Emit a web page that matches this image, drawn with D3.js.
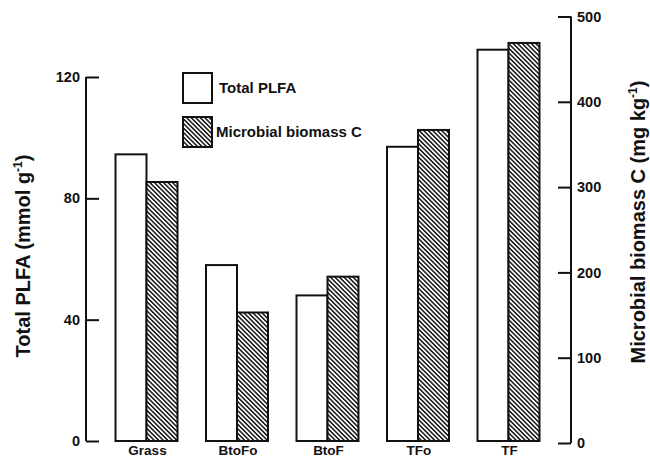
<!DOCTYPE html>
<html>
<head>
<meta charset="utf-8">
<script src="https://cdn.jsdelivr.net/npm/d3@7"></script>
<style>
  html, body { margin: 0; padding: 0; background: #fff; }
  svg { display: block; }
  text { font-family: "Liberation Sans", Arial, Helvetica, sans-serif; font-weight: bold; fill: #111; }
</style>
</head>
<body>
<script>
const categories = ["Grass", "BtoFo", "BtoF", "TFo", "TF"];
const totalPLFA = [94.5, 58, 48, 97, 129];
const biomassC = [306, 153, 195, 367, 469];
const leftTicks = [0, 40, 80, 120];
const rightTicks = [0, 100, 200, 300, 400, 500];
const seriesNames = ["Total PLFA", "Microbial biomass C"];

const W = 650, H = 459;
const svg = d3.select("body").append("svg").attr("width", W).attr("height", H);

const defs = svg.append("defs");
const pat = defs.append("pattern")
  .attr("id", "hatch")
  .attr("patternUnits", "userSpaceOnUse")
  .attr("width", 3.2).attr("height", 3.2)
  .attr("patternTransform", "rotate(-45)");
pat.append("rect").attr("width", 3.2).attr("height", 3.2).attr("fill", "#fff");
pat.append("line").attr("x1", 0.8).attr("y1", 0).attr("x2", 0.8).attr("y2", 3.2)
  .attr("stroke", "#222").attr("stroke-width", 1.6);

const x = d3.scaleBand().domain(categories).range([87, 568]).paddingInner(0.315).paddingOuter(0.315);
const xs = d3.scaleBand().domain([0, 1]).range([0, x.bandwidth()]);
const yL = d3.scaleLinear().domain([0, 120]).range([441, 77]);
const yR = d3.scaleLinear().domain([0, 500]).range([443, 16.5]);

// Left axis
const axL = d3.axisLeft(yL).tickValues(leftTicks).tickSize(-13).tickPadding(6);
const gL = svg.append("g").attr("transform", "translate(86,0)").call(axL);
gL.select(".domain").attr("d", `M0,${yL(120)}V${yL(0)}`).attr("stroke", "#111").attr("stroke-width", 2);
gL.selectAll(".tick line").attr("stroke", "#111").attr("stroke-width", 2);
gL.selectAll(".tick text").attr("x", -6).attr("font-size", 14.5).attr("font-family", "Liberation Sans, Arial, sans-serif").attr("font-weight", "bold").attr("fill", "#111");

// Right axis
const axR = d3.axisRight(yR).tickValues(rightTicks).tickSize(-13).tickPadding(6);
const gR = svg.append("g").attr("transform", "translate(571,0)").call(axR);
gR.select(".domain").attr("d", `M0,${yR(500)}V${yR(0)}`).attr("stroke", "#111").attr("stroke-width", 2);
gR.selectAll(".tick line").attr("stroke", "#111").attr("stroke-width", 2);
gR.selectAll(".tick text").attr("x", 6).attr("font-size", 14.5).attr("font-family", "Liberation Sans, Arial, sans-serif").attr("font-weight", "bold").attr("fill", "#111");

// Bars
const groups = svg.append("g").selectAll("g").data(categories).join("g")
  .attr("transform", d => `translate(${x(d)},0)`);

groups.append("rect")
  .attr("x", xs(0)).attr("width", xs.bandwidth())
  .attr("y", (d, i) => yL(totalPLFA[i]))
  .attr("height", (d, i) => yL(0) - yL(totalPLFA[i]))
  .attr("fill", "#fff").attr("stroke", "#111").attr("stroke-width", 2);

groups.append("rect")
  .attr("x", xs(1)).attr("width", xs.bandwidth())
  .attr("y", (d, i) => yR(biomassC[i]))
  .attr("height", (d, i) => yL(0) - yR(biomassC[i]))
  .attr("fill", "url(#hatch)").attr("stroke", "#111").attr("stroke-width", 2);

// Category labels
svg.append("g").selectAll("text").data(categories).join("text")
  .attr("x", d => x(d) + x.bandwidth() / 2 + 1)
  .attr("y", 455)
  .attr("text-anchor", "middle")
  .attr("font-size", 13.5)
  .text(d => d);

// Legend
const legend = svg.append("g");
const legY = [73, 117];
legend.selectAll("rect").data(seriesNames).join("rect")
  .attr("x", 183).attr("y", (d, i) => legY[i])
  .attr("width", 29).attr("height", 30)
  .attr("fill", (d, i) => i === 0 ? "#fff" : "url(#hatch)")
  .attr("stroke", "#111").attr("stroke-width", 2);
legend.selectAll("text").data(seriesNames).join("text")
  .attr("x", (d, i) => i === 0 ? 219 : 216)
  .attr("y", (d, i) => legY[i] + 20)
  .attr("font-size", 15)
  .text(d => d);

// Axis titles
const tL = svg.append("text")
  .attr("transform", "translate(30,256) rotate(-90)")
  .attr("text-anchor", "middle")
  .attr("font-size", 20);
tL.append("tspan").text("Total PLFA (mmol g");
tL.append("tspan").attr("dy", -8).attr("font-size", 12).text("-1");
tL.append("tspan").attr("dy", 8).text(")");

const tR = svg.append("text")
  .attr("transform", "translate(645,222) rotate(-90)")
  .attr("text-anchor", "middle")
  .attr("font-size", 20);
tR.append("tspan").text("Microbial biomass C (mg kg");
tR.append("tspan").attr("dy", -8).attr("font-size", 12).text("-1");
tR.append("tspan").attr("dy", 8).text(")");
</script>
</body>
</html>
